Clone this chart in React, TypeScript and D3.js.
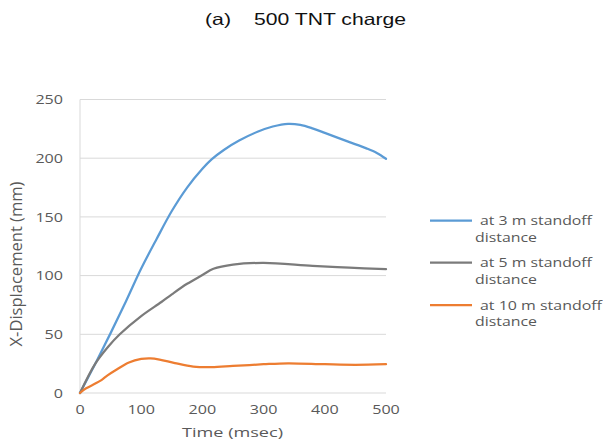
import React from "react";
import * as d3 from "d3";

const timeTicks = [0, 100, 200, 300, 400, 500];
const dispTicks = [0, 50, 100, 150, 200, 250];

const seriesNames = [
  "at 3 m standoff",
  "at 5 m standoff",
  "at 10 m standoff",
];

const t3 = [0, 25, 50, 75, 100, 125, 150, 175, 200, 215, 235, 260, 290, 315, 340, 360, 381, 400, 436, 468, 485, 500];
const d3m = [0, 25, 51, 78, 106, 131, 155, 175, 191, 199, 207, 215, 222.5, 227, 229.3, 228.4, 225.2, 221.6, 214.5, 208.4, 204.5, 199.5];

const t5 = [0, 25, 46, 65, 100, 133, 150, 175, 200, 218, 250, 300, 380, 440, 500];
const d5m = [0, 25, 39.4, 50, 65.5, 77.5, 84, 93, 100.5, 105.8, 109.4, 110.8, 108.3, 106.8, 105.5];

const t10 = [0, 10, 25, 35, 45, 60, 80, 100, 115, 130, 155, 185, 215, 250, 300, 340, 400, 450, 500];
const d10m = [0, 4, 8, 11, 15, 20, 26, 29, 29.5, 28.5, 25.5, 22.5, 22, 23, 24.5, 25.3, 24.5, 24, 24.5];

const colors = ["#5B9BD5", "#7B7B7B", "#ED7D31"];

const W = 603;
const H = 446;
const M = { left: 80, right: 386, top: 99.5, bottom: 393 };

export default function App() {
  const x = d3.scaleLinear().domain([0, 500]).range([M.left, M.right]);
  const y = d3.scaleLinear().domain([0, 250]).range([M.bottom, M.top]);
  const line = d3
    .line<[number, number]>()
    .x((d) => x(d[0]))
    .y((d) => y(d[1]))
    .curve(d3.curveCatmullRom.alpha(0.5));

  const series = [
    t3.map((t, i) => [t, d3m[i]] as [number, number]),
    t5.map((t, i) => [t, d5m[i]] as [number, number]),
    t10.map((t, i) => [t, d10m[i]] as [number, number]),
  ];

  const font = "'Open Sans', 'DejaVu Sans', sans-serif";
  const txt = "#595959";
  const sx = 1.24;

  const legendY = [220.7, 262.7, 305];

  return (
    <svg
      width={W}
      height={H}
      style={{ position: "absolute", left: 0, top: 0, background: "#fff" }}
    >
      <rect x={0} y={0} width={W} height={H} fill="#fff" />
      {/* Title */}
      <text x={205} y={25} fontFamily="'Liberation Sans', Arial, sans-serif" fontSize={16.5} fill="#111" textLength={26} lengthAdjust="spacingAndGlyphs">
        (a)
      </text>
      <text x={254} y={25} fontFamily="'Liberation Sans', Arial, sans-serif" fontSize={16.5} fill="#111" textLength={152} lengthAdjust="spacingAndGlyphs">
        500 TNT charge
      </text>

      {/* gridlines */}
      {dispTicks.map((v) => (
        <line key={"g" + v} x1={M.left} x2={M.right} y1={y(v)} y2={y(v)} stroke="#D9D9D9" strokeWidth={1} />
      ))}
      <line x1={M.left} x2={M.left} y1={M.top} y2={M.bottom} stroke="#D9D9D9" strokeWidth={1} />

      {/* y tick labels */}
      {dispTicks.map((v) => (
        <text
          key={"yt" + v}
          transform={`translate(63,${y(v) + 4.6}) scale(${sx},1)`}
          textAnchor="end"
          fontFamily={font}
          fontSize={13}
          fill={txt}
        >
          {v}
        </text>
      ))}
      {/* x tick labels */}
      {timeTicks.map((v) => (
        <text
          key={"xt" + v}
          transform={`translate(${x(v)},414) scale(${sx},1)`}
          textAnchor="middle"
          fontFamily={font}
          fontSize={13}
          fill={txt}
        >
          {v}
        </text>
      ))}

      {/* axis titles */}
      <text x={182} y={437} fontFamily={font} fontSize={13} fill={txt} textLength={101} lengthAdjust="spacingAndGlyphs">
        Time (msec)
      </text>
      <text
        transform={`translate(22,264) scale(${sx},1) rotate(-90)`}
        textAnchor="middle"
        fontFamily={font}
        fontSize={13}
        fill={txt}
        textLength={165}
        lengthAdjust="spacingAndGlyphs"
      >
        X-Displacement (mm)
      </text>

      {/* series */}
      {series.map((s, i) => (
        <path key={"s" + i} d={line(s) || ""} fill="none" stroke={colors[i]} strokeWidth={2.25} strokeLinecap="round" strokeLinejoin="round" />
      ))}

      {/* legend */}
      {seriesNames.map((n, i) => (
        <g key={"l" + i}>
          <line x1={430} x2={472} y1={legendY[i]} y2={legendY[i]} stroke={colors[i]} strokeWidth={2.25} />
          <text x={480} y={legendY[i] + 4.5} fontFamily={font} fontSize={13} fill={txt} textLength={i === 2 ? 122 : 112} lengthAdjust="spacingAndGlyphs">
            {n}
          </text>
          <text x={475} y={legendY[i] + 21} fontFamily={font} fontSize={13} fill={txt} textLength={62} lengthAdjust="spacingAndGlyphs">
            distance
          </text>
        </g>
      ))}
    </svg>
  );
}
